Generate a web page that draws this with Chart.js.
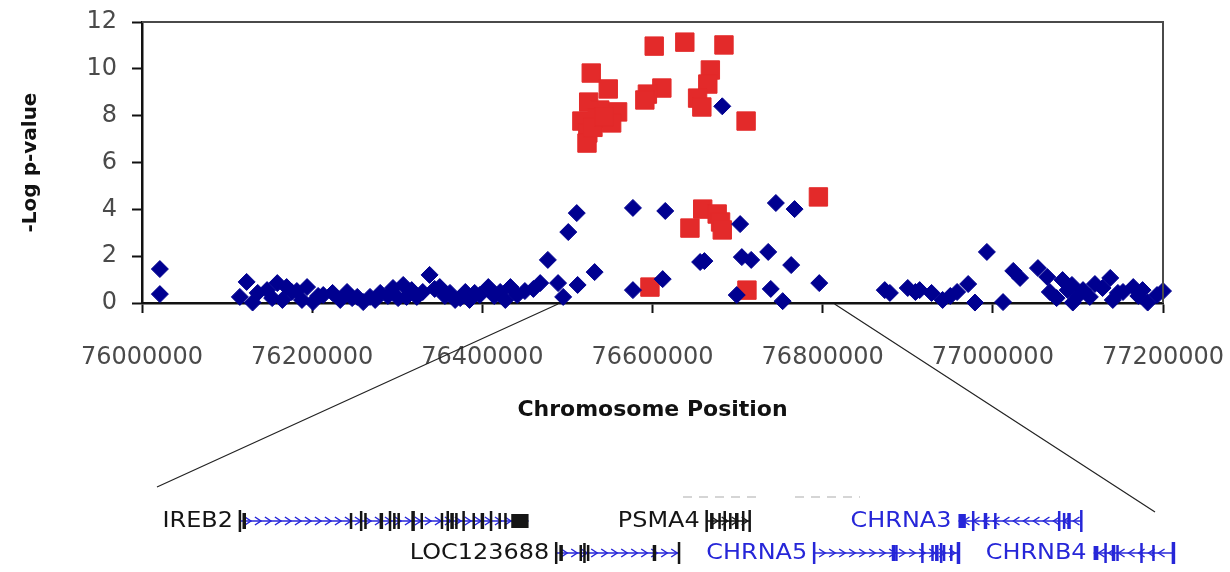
<!DOCTYPE html>
<html>
<head>
<meta charset="utf-8">
<script src="https://cdn.jsdelivr.net/npm/chart.js@4.4.1/dist/chart.umd.min.js"></script>
<style>
  html, body { margin: 0; padding: 0; background: #fff; }
</style>
</head>
<body>
<canvas id="assoc" width="1230" height="572"></canvas>
<script>
// all genotyped SNPs: position (bp) and -log10 p
const snpPos = [
  76021000, 76021000,
  76115000, 76123000, 76130000, 76136000, 76147000, 76153000, 76159000, 76165000, 76170000, 76176000,
  76182000, 76188000, 76194000, 76201000, 76207000, 76213000, 76224000, 76233000, 76241000, 76247000,
  76253000, 76260000, 76268000, 76274000, 76280000, 76289000, 76295000, 76301000, 76307000, 76311000,
  76317000, 76323000, 76330000, 76338000, 76344000, 76350000, 76356000, 76362000, 76368000, 76374000,
  76380000, 76385000, 76391000, 76397000, 76407000, 76414000, 76421000, 76427000, 76433000, 76441000,
  76450000, 76460000, 76468000, 76477000, 76489000, 76495000, 76501000, 76511000, 76512000, 76532000,
  76577000, 76577000, 76612000, 76615000, 76656000, 76661000, 76682000, 76699000, 76703000, 76705000,
  76716000, 76736000, 76739000, 76745000, 76753000, 76763000, 76767000, 76796000,
  76873000, 76879000, 76900000, 76909000, 76914000, 76928000, 76941000, 76950000, 76958000, 76971000,
  76979000, 76993000, 77012000, 77024000, 77032000, 77053000, 77064000, 77067000, 77075000, 77082000,
  77088000, 77093000, 77094000, 77100000, 77106000, 77114000, 77120000, 77129000, 77138000, 77141000,
  77147000, 77153000, 77165000, 77171000, 77176000, 77182000, 77193000, 77200000
];
const snpLogP = [
  1.45, 0.38,
  0.26, 0.90, 0.02, 0.43, 0.55, 0.21, 0.85, 0.13, 0.68, 0.47,
  0.51, 0.13, 0.68, 0.04, 0.30, 0.34, 0.43, 0.13, 0.47, 0.21,
  0.26, 0.04, 0.26, 0.13, 0.43, 0.30, 0.64, 0.21, 0.77, 0.26,
  0.55, 0.26, 0.47, 1.20, 0.60, 0.68, 0.30, 0.43, 0.13, 0.21,
  0.47, 0.13, 0.43, 0.34, 0.68, 0.30, 0.47, 0.13, 0.68, 0.34,
  0.51, 0.60, 0.85, 1.84, 0.85, 0.26, 3.03, 3.84, 0.77, 1.32,
  4.06, 0.55, 1.02, 3.93, 1.75, 1.79, 8.40, 0.34, 3.37, 1.96,
  1.84, 2.18, 0.60, 4.27, 0.08, 1.62, 4.01, 0.85,
  0.55, 0.43, 0.64, 0.47, 0.55, 0.43, 0.13, 0.30, 0.47, 0.81,
  0.02, 2.18, 0.04, 1.37, 1.07, 1.49, 1.11, 0.47, 0.21, 0.98,
  0.55, 0.77, 0.02, 0.30, 0.55, 0.26, 0.81, 0.64, 1.07, 0.13,
  0.43, 0.47, 0.68, 0.30, 0.55, 0.02, 0.34, 0.51
];

// SNPs highlighted in red
const hitPos = [
  76602000, 76638000, 76684000, 76528000, 76548000, 76668000, 76665000, 76611000, 76594000, 76591000,
  76653000, 76658000, 76525000, 76559000, 76538000, 76517000, 76535000, 76552000, 76524000, 76523000,
  76530000, 76543000, 76710000, 76659000, 76676000, 76680000, 76682000, 76644000, 76597000, 76711000,
  76795000
];
const hitLogP = [
  10.97, 11.14, 11.02, 9.82, 9.14, 9.95, 9.35, 9.18, 8.92, 8.67,
  8.75, 8.37, 8.58, 8.16, 8.24, 7.77, 7.90, 7.69, 7.26, 6.83,
  7.50, 7.95, 7.77, 4.01, 3.80, 3.46, 3.12, 3.20, 0.68, 0.55,
  4.53
];

const xTicks = [76000000, 76200000, 76400000, 76600000, 76800000, 77000000, 77200000];
const yTicks = [0, 2, 4, 6, 8, 10, 12];

// region blown up in the gene track below the plot
const zoomWindow = [76489000, 76814000];

// genes in the zoomed region
const geneNames  = ['IREB2', 'PSMA4', 'CHRNA3', 'LOC123688', 'CHRNA5', 'CHRNB4'];
const geneStart  = [76516000, 76668000, 76750000, 76619000, 76703000, 76794000];
const geneEnd    = [76610000, 76682000, 76790000, 76659000, 76750000, 76820000];
const geneStrand = [1, 1, -1, 1, 1, -1];
const geneRow    = [0, 0, 0, 1, 1, 1];
const geneBlue   = [false, false, true, false, true, true];
// exon bars as fractions along each gene, plus a thick UTR block
const geneExons = [
  [0, 0.015, 0.385, 0.42, 0.435, 0.49, 0.52, 0.535, 0.55, 0.60, 0.63, 0.70, 0.72, 0.735, 0.75, 0.775, 0.81, 0.84, 0.87, 0.90, 0.92],
  [0, 0.12, 0.3, 0.42, 0.55, 0.7, 0.85, 1],
  [0.12, 0.22, 0.3, 0.82, 0.86, 0.9, 1],
  [0, 0.04, 0.2, 0.23, 0.26, 0.8, 1],
  [0, 0.55, 0.57, 0.75, 0.82, 0.85, 0.88, 0.9, 0.95, 1],
  [0.15, 0.25, 0.3, 0.6, 0.75, 1]
];
const geneBlock = [[0.94, 1], null, [0, 0.06], null, null, [0, 0.06]];

const BLUE = '#2626d8';
const INK = '#151515';

// keep the plot box where it is regardless of tick label overhang
const noOverhang = s => {
  s.paddingLeft = 0; s.paddingRight = 0;
  s.paddingTop = 0; s.paddingBottom = 0;
};

const plotFrame = {
  id: 'plotFrame',
  afterDatasetsDraw(chart) {
    const { ctx, chartArea: a } = chart;
    ctx.save();
    ctx.strokeStyle = '#4a4a4a';
    ctx.lineWidth = 2;
    ctx.beginPath();
    ctx.moveTo(a.left, a.top);
    ctx.lineTo(a.right, a.top);
    ctx.lineTo(a.right, a.bottom);
    ctx.stroke();
    ctx.restore();
  },
  afterDraw(chart) {
    const { ctx, chartArea: a, scales } = chart;
    const trackLeft = 157, trackRight = 1155;
    const rowY = [521, 553];
    const tx = bp => trackLeft + (bp - zoomWindow[0]) / (zoomWindow[1] - zoomWindow[0]) * (trackRight - trackLeft);

    ctx.save();
    // zoom guide lines
    ctx.strokeStyle = '#222';
    ctx.lineWidth = 1.2;
    ctx.beginPath();
    ctx.moveTo(scales.x.getPixelForValue(zoomWindow[0]), a.bottom + 1);
    ctx.lineTo(trackLeft, 487);
    ctx.moveTo(scales.x.getPixelForValue(zoomWindow[1]), a.bottom + 1);
    ctx.lineTo(trackRight, 512);
    ctx.stroke();

    // faint clipped track text above the first row
    ctx.strokeStyle = '#c8c8c8';
    ctx.lineWidth = 1.5;
    ctx.setLineDash([9, 7]);
    ctx.beginPath();
    ctx.moveTo(683, 497); ctx.lineTo(760, 497);
    ctx.moveTo(795, 497); ctx.lineTo(860, 497);
    ctx.stroke();
    ctx.setLineDash([]);

    geneNames.forEach((name, i) => {
      const x0 = tx(geneStart[i]), x1 = tx(geneEnd[i]);
      const y = rowY[geneRow[i]];
      const lineCol = (geneBlue[i] || name !== 'PSMA4') ? BLUE : INK;
      const exonCol = geneBlue[i] ? BLUE : INK;

      // label, stretched a little like the browser's bitmap font
      ctx.save();
      ctx.fillStyle = geneBlue[i] ? BLUE : INK;
      ctx.font = '21px "DejaVu Sans"';
      ctx.textAlign = 'right';
      ctx.textBaseline = 'middle';
      ctx.translate(x0 - 7, y + 1);
      ctx.scale(1.14, 1);
      ctx.fillText(name, 0, 0);
      ctx.restore();

      // intron line
      ctx.strokeStyle = lineCol;
      ctx.lineWidth = 1.6;
      ctx.beginPath();
      ctx.moveTo(x0, y); ctx.lineTo(x1, y);
      ctx.stroke();

      // strand chevrons
      ctx.lineWidth = 1.5;
      ctx.beginPath();
      for (let cx = x0 + 8; cx < x1 - 4; cx += 10) {
        const d = 3 * geneStrand[i];
        ctx.moveTo(cx - d, y - 4);
        ctx.lineTo(cx + d, y);
        ctx.lineTo(cx - d, y + 4);
      }
      ctx.stroke();

      // exons
      ctx.fillStyle = exonCol;
      geneExons[i].forEach((f, k) => {
        const ex = x0 + f * (x1 - x0);
        const edge = f === 0 || f === 1;
        const h = edge ? 11 : (k % 3 === 0 ? 10 : 8);
        const w = k % 4 === 1 ? 3.5 : 2.5;
        ctx.fillRect(ex - w / 2, y - h, w, h * 2);
      });
      if (geneBlock[i]) {
        const b = geneBlock[i];
        const bx0 = x0 + b[0] * (x1 - x0), bx1 = x0 + b[1] * (x1 - x0);
        ctx.fillRect(bx0, y - 7, bx1 - bx0, 14);
      }
    });
    ctx.restore();
  }
};

new Chart(document.getElementById('assoc'), {
  type: 'scatter',
  data: {
    datasets: [
      {
        label: 'SNPs',
        data: snpPos.map((x, i) => ({ x: x, y: snpLogP[i] })),
        pointStyle: 'rectRot',
        pointRadius: 8.5,
        backgroundColor: '#000090',
        borderColor: '#000090',
        borderWidth: 1,
        clip: false
      },
      {
        label: 'Top SNPs',
        data: hitPos.map((x, i) => ({ x: x, y: hitLogP[i] })),
        pointStyle: 'rect',
        pointRadius: 13,
        backgroundColor: '#e32a2a',
        borderColor: '#e32a2a',
        borderWidth: 1,
        clip: false
      }
    ]
  },
  options: {
    responsive: false,
    animation: false,
    events: [],
    layout: { padding: { top: 22, right: 67, bottom: 149, left: 0 } },
    plugins: { legend: { display: false }, tooltip: { enabled: false } },
    scales: {
      x: {
        type: 'linear',
        min: 76000000,
        max: 77200000,
        afterBuildTicks: s => { s.ticks = xTicks.map(v => ({ value: v })); },
        afterFit: s => { s.height = 572 - 149 - 303; noOverhang(s); },
        ticks: {
          callback: v => String(v),
          font: { family: 'DejaVu Sans', size: 24 },
          color: '#4a4a4a',
          padding: 30,
          maxRotation: 0,
          autoSkip: false
        },
        grid: { drawOnChartArea: false, tickLength: 10, tickColor: '#111', tickWidth: 2 },
        border: { color: '#111', width: 2.5 },
        title: {
          display: true,
          text: 'Chromosome Position',
          font: { family: 'DejaVu Sans', size: 22, weight: 'bold' },
          color: '#111',
          padding: { top: 0, bottom: 0 }
        }
      },
      y: {
        min: 0,
        max: 12,
        afterBuildTicks: s => { s.ticks = yTicks.map(v => ({ value: v })); },
        afterFit: s => { s.width = 142; noOverhang(s); },
        ticks: {
          font: { family: 'DejaVu Sans', size: 24 },
          color: '#4a4a4a',
          padding: 15
        },
        grid: { drawOnChartArea: false, tickLength: 10, tickColor: '#111', tickWidth: 2 },
        border: { color: '#111', width: 2.5 },
        title: {
          display: true,
          text: '-Log p-value',
          font: { family: 'DejaVu Sans', size: 20, weight: 'bold' },
          color: '#111',
          padding: { top: 19, bottom: 0 }
        }
      }
    }
  },
  plugins: [plotFrame]
});
</script>
</body>
</html>
